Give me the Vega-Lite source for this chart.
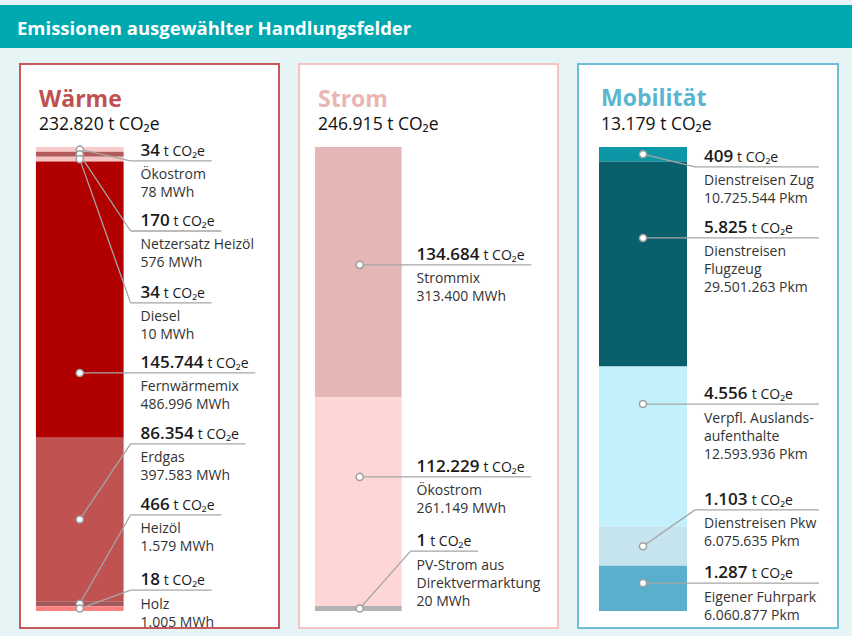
{
  "$schema": "https://vega.github.io/schema/vega-lite/v6.json",
  "background": "#e6f4f5",
  "padding": {"left": 0, "top": 5, "right": 0, "bottom": 9},
  "config": {
    "view": {"stroke": null},
    "font": "Open Sans",
    "locale": {"number": {"decimal": ",", "thousands": ".", "grouping": [3], "currency": ["", " €"]}}
  },
  "spacing": 15,
  "vconcat": [
    {
      "width": 852,
      "height": 43,
      "view": {"fill": "#00a8b0", "stroke": null},
      "title": {"text": "Emissionen ausgewählter Handlungsfelder", "anchor": "start", "frame": "group", "orient": "top", "offset": -33, "dx": 17, "font": "Open Sans", "fontSize": 18.5, "fontWeight": "bold", "color": "#ffffff"},
      "data": {"values": [{"k": 1}]},
      "mark": {"type": "text"},
      "encoding": {"text": {"value": ""}}
    },
    {
      "spacing": 18,
      "resolve": {"scale": {"color": "independent"}},
      "hconcat": [
        {"width": 1, "height": 564, "data": {"values": [{"k": 1}]}, "mark": {"type": "text"}, "encoding": {"text": {"value": ""}}},
        {
          "width": 259,
          "height": 564,
          "view": {"fill": "#ffffff", "stroke": "#c8585a", "strokeWidth": 2},
          "title": {"text": "Wärme", "subtitle": "232.820 t CO₂e", "anchor": "start", "frame": "group", "orient": "top", "offset": -69.5, "dx": 19, "font": "Open Sans", "fontSize": 23, "fontWeight": "bold", "color": "#c0504f", "subtitleFont": "Open Sans", "subtitleFontSize": 17.5, "subtitleColor": "#111111", "subtitlePadding": 4},
          "data": {"values": [
            {"key": "W1", "name": "Ökostrom", "value": 34, "amount": "78 MWh", "order": 1, "labelAt": 0.030, "direct": false},
            {"key": "W2", "name": "Netzersatz Heizöl", "value": 170, "amount": "576 MWh", "order": 2, "labelAt": 0.181, "direct": false},
            {"key": "W3", "name": "Diesel", "value": 34, "amount": "10 MWh", "order": 3, "labelAt": 0.336, "direct": false},
            {"key": "W4", "name": "Fernwärmemix", "value": 145744, "amount": "486.996 MWh", "order": 4, "labelAt": 0.487, "direct": true},
            {"key": "W5", "name": "Erdgas", "value": 86354, "amount": "397.583 MWh", "order": 5, "labelAt": 0.640, "direct": false},
            {"key": "W6", "name": "Heizöl", "value": 466, "amount": "1.579 MWh", "order": 6, "labelAt": 0.793, "direct": false},
            {"key": "W7", "name": "Holz", "value": 18, "amount": "1.005  MWh", "order": 7, "labelAt": 0.955, "direct": false}
          ]},
          "transform": [
            {"joinaggregate": [{"op": "sum", "field": "value", "as": "total"}]},
            {"calculate": "max(datum.value, datum.total * 0.011)", "as": "shown"},
            {"stack": "shown", "groupby": [], "sort": [{"field": "order", "order": "ascending"}], "as": ["s0", "s1"]},
            {"joinaggregate": [{"op": "sum", "field": "shown", "as": "shownTotal"}]},
            {"calculate": "datum.s0 / datum.shownTotal", "as": "top"},
            {"calculate": "datum.s1 / datum.shownTotal", "as": "bottom"},
            {"calculate": "datum.direct ? datum.labelAt : (datum.top + datum.bottom) / 2", "as": "pin"},
            {"calculate": "6.15", "as": "barL"},
            {"calculate": "40.0", "as": "barR"},
            {"calculate": "23.08", "as": "pinX"},
            {"calculate": "42.69", "as": "kneeX"},
            {"calculate": "46.54", "as": "textX"},
            {"calculate": "length(toString(datum.value))", "as": "digits"},
            {"calculate": "datum.textX + (datum.digits * 9.7 + floor((datum.digits - 1) / 3) * 5 + 4) / 2.6", "as": "unitX"},
            {"calculate": "datum.unitX + 18.46", "as": "lineEnd"},
            {"calculate": "datum.name + '\\n' + datum.amount", "as": "info"}
          ],
          "layer": [
            {
              "mark": {"type": "rect"},
              "encoding": {
                "x": {"field": "barL", "type": "quantitative", "scale": {"domain": [0, 100], "nice": false, "zero": false}, "axis": null},
                "x2": {"field": "barR"},
                "y": {"field": "top", "type": "quantitative", "scale": {"domain": [0, 1], "range": [83, 547], "nice": false, "zero": false}, "axis": null},
                "y2": {"field": "bottom"},
                "color": {"field": "key", "type": "nominal", "legend": null, "scale": {"domain": ["W1", "W2", "W3", "W4", "W5", "W6", "W7"], "range": ["#fbcaca", "#b35a5a", "#f7c4c4", "#b00000", "#c05252", "#a4585a", "#ff8080"]}}
              }
            },
            {
              "mark": {"type": "rule", "color": "#a6a6a6", "strokeWidth": 1.3},
              "encoding": {
                "x": {"field": "pinX", "type": "quantitative", "axis": null},
                "x2": {"field": "kneeX"},
                "y": {"field": "pin", "type": "quantitative", "axis": null},
                "y2": {"field": "labelAt"}
              }
            },
            {
              "mark": {"type": "rule", "color": "#a6a6a6", "strokeWidth": 1.3},
              "encoding": {
                "x": {"field": "kneeX", "type": "quantitative", "axis": null},
                "x2": {"field": "lineEnd"},
                "y": {"field": "labelAt", "type": "quantitative", "axis": null},
                "y2": {"field": "labelAt"}
              }
            },
            {
              "mark": {"type": "point", "shape": "circle", "filled": true, "fill": "#ffffff", "stroke": "#9e9e9e", "strokeWidth": 1.5, "size": 50, "opacity": 1},
              "encoding": {
                "x": {"field": "pinX", "type": "quantitative", "axis": null},
                "y": {"field": "pin", "type": "quantitative", "axis": null}
              }
            },
            {
              "mark": {"type": "text", "align": "left", "baseline": "alphabetic", "dy": -5, "font": "Open Sans", "fontSize": 17, "fontWeight": 600, "color": "#1a1a1a"},
              "encoding": {
                "x": {"field": "textX", "type": "quantitative", "axis": null},
                "y": {"field": "labelAt", "type": "quantitative", "axis": null},
                "text": {"field": "value", "type": "quantitative", "format": ",d"}
              }
            },
            {
              "mark": {"type": "text", "align": "left", "baseline": "alphabetic", "dy": -5, "font": "Open Sans", "fontSize": 14, "color": "#1a1a1a"},
              "encoding": {
                "x": {"field": "unitX", "type": "quantitative", "axis": null},
                "y": {"field": "labelAt", "type": "quantitative", "axis": null},
                "text": {"value": "t CO₂e"}
              }
            },
            {
              "mark": {"type": "text", "align": "left", "baseline": "alphabetic", "dy": 18.5, "lineBreak": "\n", "lineHeight": 18, "font": "Open Sans", "fontSize": 14, "color": "#333333"},
              "encoding": {
                "x": {"field": "textX", "type": "quantitative", "axis": null},
                "y": {"field": "labelAt", "type": "quantitative", "axis": null},
                "text": {"field": "info", "type": "nominal"}
              }
            }
          ]
        },
        {
          "width": 259,
          "height": 564,
          "view": {"fill": "#ffffff", "stroke": "#f2c4c4", "strokeWidth": 2},
          "title": {"text": "Strom", "subtitle": "246.915 t CO₂e", "anchor": "start", "frame": "group", "orient": "top", "offset": -69.5, "dx": 19, "font": "Open Sans", "fontSize": 23, "fontWeight": "bold", "color": "#ebb5b5", "subtitleFont": "Open Sans", "subtitleFontSize": 17.5, "subtitleColor": "#111111", "subtitlePadding": 4},
          "data": {"values": [
            {"key": "S1", "name": "Strommix", "value": 134684, "amount": "313.400 MWh", "order": 1, "labelAt": 0.254, "direct": true},
            {"key": "S2", "name": "Ökostrom", "value": 112229, "amount": "261.149 MWh", "order": 2, "labelAt": 0.711, "direct": true},
            {"key": "S3", "name": "PV-Strom aus\nDirektvermarktung", "value": 1, "amount": "20 MWh", "order": 3, "labelAt": 0.871, "direct": false}
          ]},
          "transform": [
            {"joinaggregate": [{"op": "sum", "field": "value", "as": "total"}]},
            {"calculate": "max(datum.value, datum.total * 0.011)", "as": "shown"},
            {"stack": "shown", "groupby": [], "sort": [{"field": "order", "order": "ascending"}], "as": ["s0", "s1"]},
            {"joinaggregate": [{"op": "sum", "field": "shown", "as": "shownTotal"}]},
            {"calculate": "datum.s0 / datum.shownTotal", "as": "top"},
            {"calculate": "datum.s1 / datum.shownTotal", "as": "bottom"},
            {"calculate": "datum.direct ? datum.labelAt : (datum.top + datum.bottom) / 2", "as": "pin"},
            {"calculate": "6.15", "as": "barL"},
            {"calculate": "39.62", "as": "barR"},
            {"calculate": "23.46", "as": "pinX"},
            {"calculate": "43.08", "as": "kneeX"},
            {"calculate": "45.38", "as": "textX"},
            {"calculate": "length(toString(datum.value))", "as": "digits"},
            {"calculate": "datum.textX + (datum.digits * 9.7 + floor((datum.digits - 1) / 3) * 5 + 4) / 2.6", "as": "unitX"},
            {"calculate": "datum.unitX + 18.46", "as": "lineEnd"},
            {"calculate": "datum.name + '\\n' + datum.amount", "as": "info"}
          ],
          "layer": [
            {
              "mark": {"type": "rect"},
              "encoding": {
                "x": {"field": "barL", "type": "quantitative", "scale": {"domain": [0, 100], "nice": false, "zero": false}, "axis": null},
                "x2": {"field": "barR"},
                "y": {"field": "top", "type": "quantitative", "scale": {"domain": [0, 1], "range": [83, 547], "nice": false, "zero": false}, "axis": null},
                "y2": {"field": "bottom"},
                "color": {"field": "key", "type": "nominal", "legend": null, "scale": {"domain": ["S1", "S2", "S3"], "range": ["#e4b6b6", "#ffd6d6", "#b3b3b3"]}}
              }
            },
            {
              "mark": {"type": "rule", "color": "#a6a6a6", "strokeWidth": 1.3},
              "encoding": {
                "x": {"field": "pinX", "type": "quantitative", "axis": null},
                "x2": {"field": "kneeX"},
                "y": {"field": "pin", "type": "quantitative", "axis": null},
                "y2": {"field": "labelAt"}
              }
            },
            {
              "mark": {"type": "rule", "color": "#a6a6a6", "strokeWidth": 1.3},
              "encoding": {
                "x": {"field": "kneeX", "type": "quantitative", "axis": null},
                "x2": {"field": "lineEnd"},
                "y": {"field": "labelAt", "type": "quantitative", "axis": null},
                "y2": {"field": "labelAt"}
              }
            },
            {
              "mark": {"type": "point", "shape": "circle", "filled": true, "fill": "#ffffff", "stroke": "#9e9e9e", "strokeWidth": 1.5, "size": 50, "opacity": 1},
              "encoding": {
                "x": {"field": "pinX", "type": "quantitative", "axis": null},
                "y": {"field": "pin", "type": "quantitative", "axis": null}
              }
            },
            {
              "mark": {"type": "text", "align": "left", "baseline": "alphabetic", "dy": -5, "font": "Open Sans", "fontSize": 17, "fontWeight": 600, "color": "#1a1a1a"},
              "encoding": {
                "x": {"field": "textX", "type": "quantitative", "axis": null},
                "y": {"field": "labelAt", "type": "quantitative", "axis": null},
                "text": {"field": "value", "type": "quantitative", "format": ",d"}
              }
            },
            {
              "mark": {"type": "text", "align": "left", "baseline": "alphabetic", "dy": -5, "font": "Open Sans", "fontSize": 14, "color": "#1a1a1a"},
              "encoding": {
                "x": {"field": "unitX", "type": "quantitative", "axis": null},
                "y": {"field": "labelAt", "type": "quantitative", "axis": null},
                "text": {"value": "t CO₂e"}
              }
            },
            {
              "mark": {"type": "text", "align": "left", "baseline": "alphabetic", "dy": 18.5, "lineBreak": "\n", "lineHeight": 18, "font": "Open Sans", "fontSize": 14, "color": "#333333"},
              "encoding": {
                "x": {"field": "textX", "type": "quantitative", "axis": null},
                "y": {"field": "labelAt", "type": "quantitative", "axis": null},
                "text": {"field": "info", "type": "nominal"}
              }
            }
          ]
        },
        {
          "width": 260,
          "height": 564,
          "view": {"fill": "#ffffff", "stroke": "#6cbfd6", "strokeWidth": 2},
          "title": {"text": "Mobilität", "subtitle": "13.179 t CO₂e", "anchor": "start", "frame": "group", "orient": "top", "offset": -69.5, "dx": 23, "font": "Open Sans", "fontSize": 23, "fontWeight": "bold", "color": "#5ab5d0", "subtitleFont": "Open Sans", "subtitleFontSize": 17.5, "subtitleColor": "#111111", "subtitlePadding": 5.5},
          "data": {"values": [
            {"key": "M1", "name": "Dienstreisen Zug", "value": 409, "amount": "10.725.544 Pkm", "order": 1, "labelAt": 0.043, "direct": false},
            {"key": "M2", "name": "Dienstreisen\nFlugzeug", "value": 5825, "amount": "29.501.263 Pkm", "order": 2, "labelAt": 0.196, "direct": true},
            {"key": "M3", "name": "Verpfl. Auslands-\naufenthalte", "value": 4556, "amount": "12.593.936 Pkm", "order": 3, "labelAt": 0.554, "direct": true},
            {"key": "M4", "name": "Dienstreisen Pkw", "value": 1103, "amount": "6.075.635 Pkm", "order": 4, "labelAt": 0.782, "direct": false},
            {"key": "M5", "name": "Eigener Fuhrpark", "value": 1287, "amount": "6.060.877 Pkm", "order": 5, "labelAt": 0.940, "direct": true}
          ]},
          "transform": [
            {"joinaggregate": [{"op": "sum", "field": "value", "as": "total"}]},
            {"calculate": "max(datum.value, datum.total * 0.011)", "as": "shown"},
            {"stack": "shown", "groupby": [], "sort": [{"field": "order", "order": "ascending"}], "as": ["s0", "s1"]},
            {"joinaggregate": [{"op": "sum", "field": "shown", "as": "shownTotal"}]},
            {"calculate": "datum.s0 / datum.shownTotal", "as": "top"},
            {"calculate": "datum.s1 / datum.shownTotal", "as": "bottom"},
            {"calculate": "datum.direct ? datum.labelAt : (datum.top + datum.bottom) / 2", "as": "pin"},
            {"calculate": "8.08", "as": "barL"},
            {"calculate": "41.92", "as": "barR"},
            {"calculate": "25.0", "as": "pinX"},
            {"calculate": "45.0", "as": "kneeX"},
            {"calculate": "48.46", "as": "textX"},
            {"calculate": "length(toString(datum.value))", "as": "digits"},
            {"calculate": "datum.textX + (datum.digits * 9.7 + floor((datum.digits - 1) / 3) * 5 + 4) / 2.6", "as": "unitX"},
            {"calculate": "92.69", "as": "lineEnd"},
            {"calculate": "datum.name + '\\n' + datum.amount", "as": "info"}
          ],
          "layer": [
            {
              "mark": {"type": "rect"},
              "encoding": {
                "x": {"field": "barL", "type": "quantitative", "scale": {"domain": [0, 100], "nice": false, "zero": false}, "axis": null},
                "x2": {"field": "barR"},
                "y": {"field": "top", "type": "quantitative", "scale": {"domain": [0, 1], "range": [83, 547], "nice": false, "zero": false}, "axis": null},
                "y2": {"field": "bottom"},
                "color": {"field": "key", "type": "nominal", "legend": null, "scale": {"domain": ["M1", "M2", "M3", "M4", "M5"], "range": ["#0b97a5", "#0a5f6d", "#c3f1fb", "#c6e4ee", "#5aafcc"]}}
              }
            },
            {
              "mark": {"type": "rule", "color": "#a6a6a6", "strokeWidth": 1.3},
              "encoding": {
                "x": {"field": "pinX", "type": "quantitative", "axis": null},
                "x2": {"field": "kneeX"},
                "y": {"field": "pin", "type": "quantitative", "axis": null},
                "y2": {"field": "labelAt"}
              }
            },
            {
              "mark": {"type": "rule", "color": "#a6a6a6", "strokeWidth": 1.3},
              "encoding": {
                "x": {"field": "kneeX", "type": "quantitative", "axis": null},
                "x2": {"field": "lineEnd"},
                "y": {"field": "labelAt", "type": "quantitative", "axis": null},
                "y2": {"field": "labelAt"}
              }
            },
            {
              "mark": {"type": "point", "shape": "circle", "filled": true, "fill": "#ffffff", "stroke": "#9e9e9e", "strokeWidth": 1.5, "size": 50, "opacity": 1},
              "encoding": {
                "x": {"field": "pinX", "type": "quantitative", "axis": null},
                "y": {"field": "pin", "type": "quantitative", "axis": null}
              }
            },
            {
              "mark": {"type": "text", "align": "left", "baseline": "alphabetic", "dy": -5, "font": "Open Sans", "fontSize": 17, "fontWeight": 600, "color": "#1a1a1a"},
              "encoding": {
                "x": {"field": "textX", "type": "quantitative", "axis": null},
                "y": {"field": "labelAt", "type": "quantitative", "axis": null},
                "text": {"field": "value", "type": "quantitative", "format": ",d"}
              }
            },
            {
              "mark": {"type": "text", "align": "left", "baseline": "alphabetic", "dy": -5, "font": "Open Sans", "fontSize": 14, "color": "#1a1a1a"},
              "encoding": {
                "x": {"field": "unitX", "type": "quantitative", "axis": null},
                "y": {"field": "labelAt", "type": "quantitative", "axis": null},
                "text": {"value": "t CO₂e"}
              }
            },
            {
              "mark": {"type": "text", "align": "left", "baseline": "alphabetic", "dy": 18.5, "lineBreak": "\n", "lineHeight": 18, "font": "Open Sans", "fontSize": 14, "color": "#333333"},
              "encoding": {
                "x": {"field": "textX", "type": "quantitative", "axis": null},
                "y": {"field": "labelAt", "type": "quantitative", "axis": null},
                "text": {"field": "info", "type": "nominal"}
              }
            }
          ]
        }
      ]
    }
  ]
}
